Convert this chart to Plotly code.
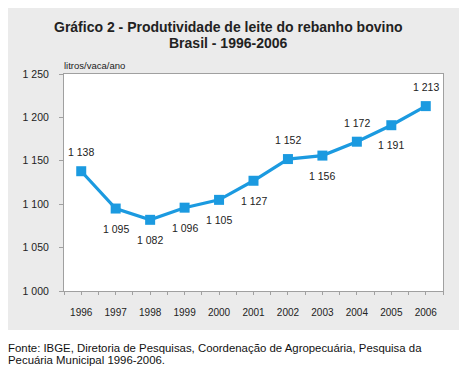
import plotly.graph_objects as go

years = [1996, 1997, 1998, 1999, 2000, 2001, 2002, 2003, 2004, 2005, 2006]
values = [1138, 1095, 1082, 1096, 1105, 1127, 1152, 1156, 1172, 1191, 1213]
label_side = ["above", "below", "below", "below", "below", "below", "above", "below", "above", "below", "above"]
y_ticks = [1000, 1050, 1100, 1150, 1200, 1250]

def fmt(v):
    return f"{v:,}".replace(",", " ")

# page body has an 8px margin; figure coordinates are page coordinates minus OFF
OFF = 8
W, H = 467 - OFF, 370 - OFF
L, R, T, B = 64 - OFF, 443 - OFF, 74 - OFF, 291 - OFF
pw, ph = R - L, B - T

def px(x):
    return (x - OFF - L) / pw

def py(y):
    return (B - (y - OFF)) / ph

font = "Liberation Sans, Arial"
blue = "#1b9ae0"
fig = go.Figure()
fig.add_trace(go.Scatter(
    x=years, y=values, mode="lines+markers",
    line=dict(color=blue, width=3.2),
    marker=dict(symbol="square", size=10, color=blue),
    hoverinfo="skip",
))

annotations = [
    dict(text="<b>Gráfico 2 - Produtividade de leite do rebanho bovino</b>", x=px(228), y=py(27),
         xref="paper", yref="paper", showarrow=False, xanchor="center", yanchor="middle",
         font=dict(family=font, size=14, color="#222222")),
    dict(text="<b>Brasil - 1996-2006</b>", x=px(228), y=py(43),
         xref="paper", yref="paper", showarrow=False, xanchor="center", yanchor="middle",
         font=dict(family=font, size=14, color="#222222")),
    dict(text="litros/vaca/ano", x=px(62), y=py(65),
         xref="paper", yref="paper", showarrow=False, xanchor="left", yanchor="middle",
         font=dict(family=font, size=9.5, color="#222222")),
    dict(text="Fonte: IBGE, Diretoria de Pesquisas, Coordenação de Agropecuária, Pesquisa da",
         x=px(6), y=py(348), xref="paper", yref="paper", showarrow=False, xanchor="left", yanchor="middle",
         font=dict(family=font, size=11.4, color="#111111")),
    dict(text="Pecuária Municipal 1996-2006.",
         x=px(6), y=py(360), xref="paper", yref="paper", showarrow=False, xanchor="left", yanchor="middle",
         font=dict(family=font, size=11.4, color="#111111")),
]
for yr, v, side in zip(years, values, label_side):
    annotations.append(dict(
        text=fmt(v), x=yr, y=v, xref="x", yref="y", showarrow=False,
        xanchor="center", yanchor="middle", yshift=19 if side == "above" else -20,
        font=dict(family=font, size=10.5, color="#222222"),
    ))

fig.update_layout(
    width=W, height=H,
    margin=dict(l=L, r=W - R, t=T, b=H - B),
    paper_bgcolor="white", plot_bgcolor="white",
    showlegend=False,
    shapes=[
        dict(type="rect", xref="paper", yref="paper", x0=px(7), x1=px(459), y0=py(330), y1=py(5),
             fillcolor="#ebebeb", line=dict(width=0), layer="below"),
        dict(type="rect", xref="paper", yref="paper", x0=0, x1=1, y0=0, y1=1,
             fillcolor="white", line=dict(width=0), layer="below"),
    ],
    annotations=annotations,
)

fig.update_xaxes(
    range=[1995.5, 2006.5], tickvals=years, ticktext=[str(y) for y in years],
    showline=True, linecolor="#a0a0a0", linewidth=1, mirror=True,
    ticks="outside", ticklen=3, tickcolor="#a0a0a0",
    minor=dict(dtick=0.5, tick0=1995.5, ticks="outside", ticklen=3, tickcolor="#a0a0a0"),
    showgrid=False, zeroline=False,
    tickfont=dict(family=font, size=10, color="#222222"),
    ticklabelstandoff=9,
)
fig.update_yaxes(
    range=[1000, 1250], tickvals=y_ticks, ticktext=[fmt(v) for v in y_ticks],
    showline=True, linecolor="#a0a0a0", linewidth=1, mirror=True,
    ticks="outside", ticklen=4, tickcolor="#a0a0a0",
    showgrid=False, zeroline=False,
    tickfont=dict(family=font, size=10.5, color="#222222"),
    ticklabelstandoff=8,
)

fig.write_html("out.html")
